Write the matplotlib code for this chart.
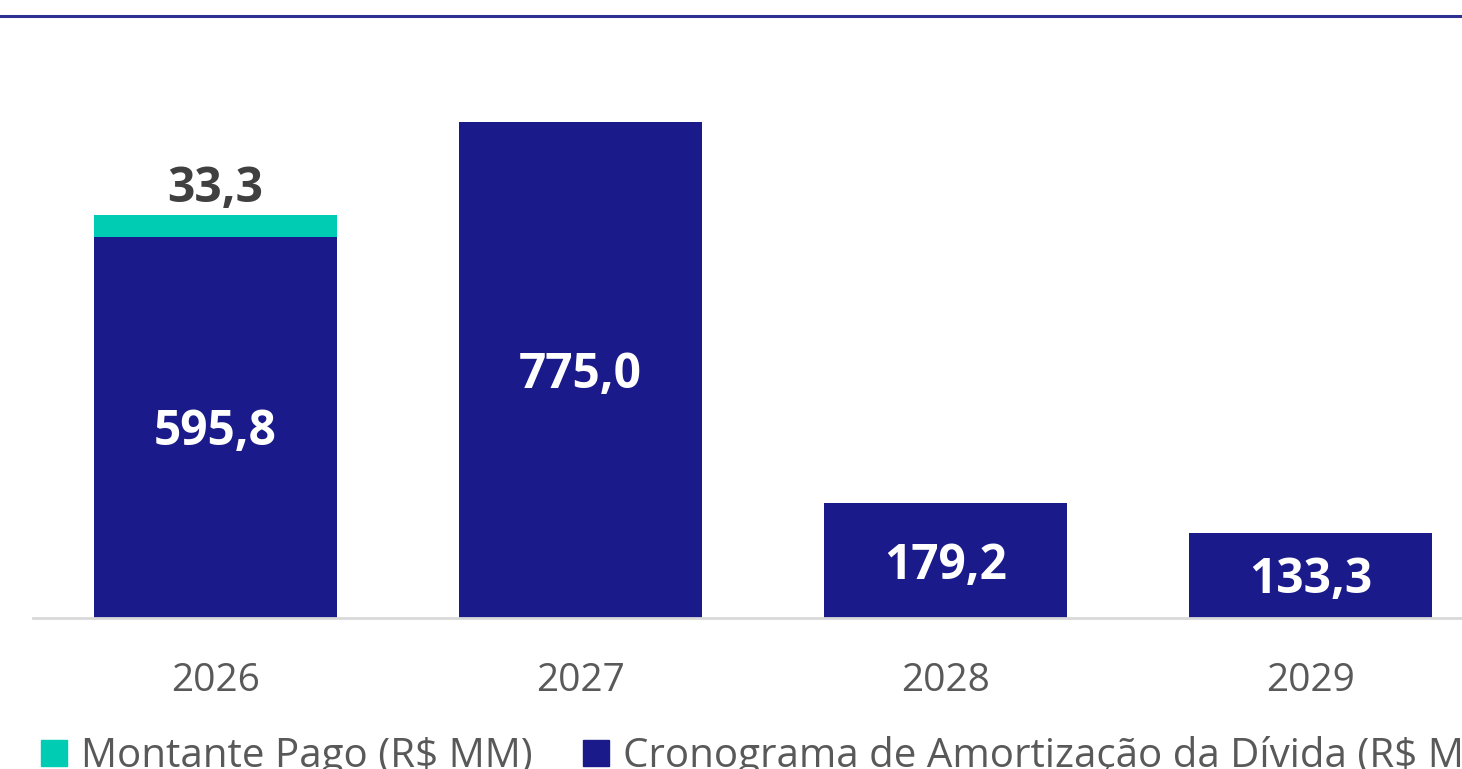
import matplotlib
matplotlib.use("Agg")
import matplotlib.pyplot as plt
from matplotlib.lines import Line2D
from matplotlib.patches import Patch

anos = ["2026", "2027", "2028", "2029"]
cronograma = [595.8, 775.0, 179.2, 133.3]
montante_pago = [33.3, 0, 0, 0]
rot_cronograma = ["595,8", "775,0", "179,2", "133,3"]
rot_pago = ["33,3", "", "", ""]

azul = "#1b1a8a"
verde = "#00ccb4"

plt.rcParams['font.family'] = ['Open Sans', 'DejaVu Sans']

fig = plt.figure(figsize=(14.62, 7.69), dpi=100)
ax = fig.add_axes([33 / 1462, 151 / 769, 1460 / 1462, 568 / 769])

x = range(len(anos))
b1 = ax.bar(x, cronograma, width=0.665, color=azul)
b2 = ax.bar(x, montante_pago, width=0.665, bottom=cronograma, color=verde)

for i, r in enumerate(b1):
    ax.annotate(rot_cronograma[i], (r.get_x() + r.get_width() / 2, cronograma[i] / 2),
                xytext=(0, -4), textcoords='offset points',
                ha='center', va='center', color='white', fontsize=34.5, fontweight='bold')
for i, r in enumerate(b2):
    if rot_pago[i]:
        ax.annotate(rot_pago[i], (r.get_x() + r.get_width() / 2, cronograma[i] + montante_pago[i]),
                    xytext=(0, 1), textcoords='offset points', ha='center', va='bottom',
                    color='#404040', fontsize=34.5, fontweight='bold')

ax.set_xlim(-0.5, 3.5)
ax.set_ylim(0, 887.5)
ax.set_xticks(list(x))
ax.set_xticklabels(anos, fontsize=28, color='#595959')
ax.tick_params(axis='x', length=0, pad=32)
ax.set_yticks([])
for s in ['top', 'right', 'left']:
    ax.spines[s].set_visible(False)
ax.spines['bottom'].set_color('#d9d9d9')
ax.spines['bottom'].set_linewidth(2)

# linha do topo
fig.add_artist(Line2D([0, 1], [1 - 16 / 769, 1 - 16 / 769], color='#2e3192', lw=2.2))

handles = [Patch(color=verde, label='Montante Pago (R$ MM)'),
           Patch(color=azul, label='Cronograma de Amortização da Dívida (R$ MM)')]
fig.legend(handles=handles, loc='upper left', bbox_to_anchor=(0.017, 1 - 720 / 769),
           ncol=2, frameon=False, fontsize=29, handlelength=0.65, handleheight=0.65,
           handletextpad=0.35, columnspacing=1.25, labelcolor='#595959', borderaxespad=0)

fig.savefig("out.png", dpi=100)
